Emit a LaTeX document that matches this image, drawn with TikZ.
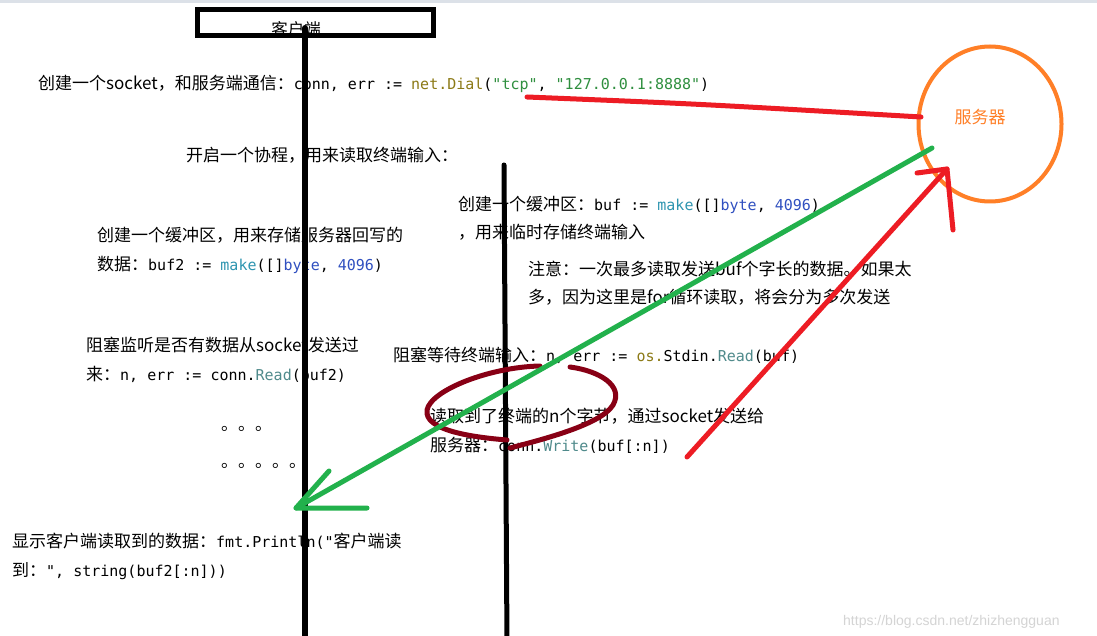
\documentclass[tikz,border=0pt]{standalone}
\usepackage{fontspec}
\newfontfamily\cjk{Noto Sans CJK SC}
\newfontfamily\codefont{DejaVu Sans Mono}
\newfontfamily\wmfont{Liberation Sans}
\usetikzlibrary{shapes.geometric}
\definecolor{pred}{HTML}{ED1C24}
\definecolor{pgreen}{HTML}{22B14C}
\definecolor{porange}{HTML}{FF7F27}
\definecolor{pmaroon}{HTML}{880015}
\definecolor{codeolive}{HTML}{8C7A16}
\definecolor{codestr}{HTML}{2F8F3F}
\definecolor{codeteal}{HTML}{2E95B0}
\definecolor{codeblue}{HTML}{3050C0}
\definecolor{codegray}{HTML}{4F8A8B}
\definecolor{topstrip}{HTML}{DCE1E8}
\newcommand\codeseg[2]{{\codefont\fontsize{15}{18}\selectfont\color{#1}#2}}
\begin{document}
\begin{tikzpicture}[x=1pt,y=-1pt,
  txt/.style={anchor=base west, inner sep=0pt, font=\cjk\fontsize{17}{20}\selectfont},
  lifeline/.style={draw=black, line width=6pt, line cap=round},
  redstroke/.style={draw=pred, line width=5pt, line cap=round, line join=round},
  greenstroke/.style={draw=pgreen, line width=5pt, line cap=round, line join=round},
  loopstroke/.style={draw=pmaroon, line width=5pt, line cap=round}]
\useasboundingbox (0,0) rectangle (1097,636);
\fill[white] (0,0) rectangle (1097,636);
\fill[topstrip] (0,0) rectangle (1097,3);

% texts
\node[txt] (t1) at (38,89.5) {创建一个socket，和服务端通信：\codeseg{black}{conn, err := }\codeseg{codeolive}{net.Dial}\codeseg{black}{(}\codeseg{codestr}{"tcp"}\codeseg{black}{, }\codeseg{codestr}{"127.0.0.1:8888"}\codeseg{black}{)}};
\node[txt] (t2) at (186,161.5) {开启一个协程，用来读取终端输入：};
\node[txt] (t3) at (458,210.5) {创建一个缓冲区：\codeseg{black}{buf := }\codeseg{codeteal}{make}\codeseg{black}{([]}\codeseg{codeblue}{byte}\codeseg{black}{, }\codeseg{codeblue}{4096}\codeseg{black}{)}};
\node[txt] (t4) at (458,238.5) {，用来临时存储终端输入};
\node[txt] (t5) at (97,241.5) {创建一个缓冲区，用来存储服务器回写的};
\node[txt] (t6) at (97,270.5) {数据：\codeseg{black}{buf2 := }\codeseg{codeteal}{make}\codeseg{black}{([]}\codeseg{codeblue}{byte}\codeseg{black}{, }\codeseg{codeblue}{4096}\codeseg{black}{)}};
\node[txt] (t7) at (528,275.5) {注意：一次最多读取发送buf个字长的数据。如果太};
\node[txt] (t8) at (528,303.5) {多，因为这里是for循环读取，将会分为多次发送};
\node[txt] (t9) at (86,351.5) {阻塞监听是否有数据从socket发送过};
\node[txt] (t10) at (86,380.5) {来：\codeseg{black}{n, err := conn.}\codeseg{codegray}{Read}\codeseg{black}{(buf2)}};
\node[txt] (t11) at (393,361.5) {阻塞等待终端输入：\codeseg{black}{n, err := }\codeseg{codeolive}{os.}\codeseg{black}{Stdin.}\codeseg{codegray}{Read}\codeseg{black}{(buf)}};
\node[txt] (t12) at (430,422.5) {读取到了终端的n个字节，通过socket发送给};
\node[txt] (t13) at (430,451.5) {服务器：\codeseg{black}{conn.}\codeseg{codegray}{Write}\codeseg{black}{(buf[:n])}};
\node[txt] (dots1) at (221,430) {。。。};
\node[txt] (dots2) at (221,467) {。。。。。};
\node[txt] (t15) at (12,547.5) {显示客户端读取到的数据：\codeseg{black}{fmt.Println("}客户端读};
\node[txt] (t16) at (12,576.5) {到：\codeseg{black}{", string(buf2[:n]))}};
\node[anchor=base west, inner sep=0pt, font=\wmfont\fontsize{14}{16}\selectfont, text=black!17] (wm) at (843,625) {https://blog.csdn.net/zhizhengguan};

% client box
\node[draw=black, line width=5pt, minimum width=236pt, minimum height=26pt, inner sep=0pt] (client) at (315.5,22.5) {};
\node[font=\cjk\fontsize{16.5}{18}\selectfont, inner sep=0pt] (clientlabel) at (296,29) {客户端};

% server
\node[ellipse, draw=porange, line width=4pt, minimum width=143pt, minimum height=155pt, inner sep=0pt] (server) at (990,124) {};
\node[font=\cjk\fontsize{17}{20}\selectfont, text=porange, inner sep=0pt] (serverlabel) at (980,117) {服务器};

% lifelines
\coordinate (c1top) at (305,28);
\coordinate (c1bot) at (305,645);
\coordinate (c2top) at (504,165);
\coordinate (c2bot) at (507,645);
\draw[lifeline] (c1top) -- (c1bot);
\draw[lifeline, line width=5pt] (c2top) -- (c2bot);

% maroon loop
\coordinate (la) at (507,440);
\coordinate (lb) at (540,366);
\coordinate (lc) at (570,367);
\coordinate (ld) at (510,448);
\draw[loopstroke] (la) .. controls (470,437) and (424,430) .. (427,410) .. controls (431,390) and (490,367) .. (lb);
\draw[loopstroke] (lc) .. controls (600,371) and (624,386) .. (613,405) .. controls (601,425) and (540,440) .. (ld);

% red line to server
\coordinate (dialend) at (527,97);
\coordinate (serverin) at (921,117);
\draw[redstroke] (dialend) .. controls (700,104) .. (serverin);

% green arrow from server to client
\coordinate (gstart) at (932,148);
\coordinate (gtip) at (296,508);
\coordinate (gb1) at (329,471);
\coordinate (gb2) at (367,508);
\draw[greenstroke] (gstart) -- (gtip);
\draw[greenstroke] (gb1) -- (gtip) -- (gb2);

% red arrow from write to server
\coordinate (rstart) at (687,457);
\coordinate (rtip) at (947,169);
\coordinate (rb1) at (917,173);
\coordinate (rb2) at (953,230);
\draw[redstroke] (rstart) -- (rtip);
\draw[redstroke] (rb1) -- (rtip) -- (rb2);
\end{tikzpicture}
\end{document}
